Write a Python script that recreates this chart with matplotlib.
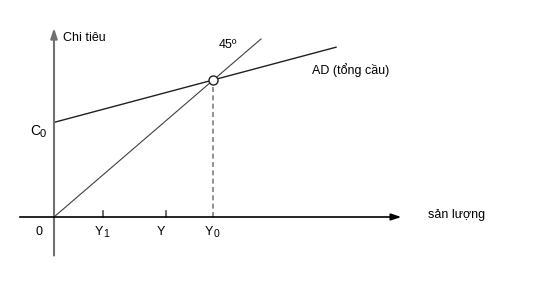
import numpy as np
import matplotlib
matplotlib.use("Agg")
import matplotlib.pyplot as plt

plt.rcParams['font.family'] = ['Liberation Sans', 'DejaVu Sans']

# keynesian cross, schematic units
C0 = 110          # autonomous spending
mpc = 0.31        # slope of AD
Y0 = C0 / (1 - mpc)   # equilibrium output
Y1 = 49
Y = 112
x_ad_end = 282
x_45_end = 207

tick_pos = [Y1, Y, Y0]
tick_lab = ['Y', 'Y', 'Y']
tick_sub = ['1', '', '0']

fig = plt.figure(figsize=(5.41, 2.81), dpi=100)
ax = fig.add_axes([0, 0, 1, 1])
ys = 0.86  # pixel per y unit
ax.set_xlim(-54, 487)
ax.set_ylim(-64 / ys, 217 / ys)
ax.axis('off')

# axes
ax.annotate('', xy=(0, 223), xytext=(0, -48),
            arrowprops=dict(arrowstyle='-|>,head_length=0.6,head_width=0.2', color='#707070', lw=1.5))
ax.annotate('', xy=(350, 0), xytext=(-37, 0),
            arrowprops=dict(arrowstyle='-|>,head_length=0.6,head_width=0.2', color='black', lw=1.2))

# lines
xx = np.array([0, x_45_end])
ax.plot(xx, xx, color='#404040', lw=0.8)
xa = np.array([0, x_ad_end])
ax.plot(xa, C0 + mpc * xa, color='#202020', lw=1.0)
ax.plot([Y0, Y0], [0, Y0], color='#808080', lw=1.2, ls=(0, (3, 2)))
ax.plot([Y0], [Y0], marker='o', ms=6.5, mfc='white', mec='#202020', mew=1)

# ticks
for p in tick_pos[:2]:
    ax.plot([p, p], [0, 7], color='#505050', lw=1.2)
for p, lab, sub in zip(tick_pos, tick_lab, tick_sub):
    if sub:
        ax.text(p, -17, lab, ha='right', va='center', fontsize=9)
        ax.text(p, -20, sub, ha='left', va='center', fontsize=7.5)
    else:
        ax.text(p - 5, -17, lab, ha='center', va='center', fontsize=9)
ax.text(-15, -17, '0', ha='center', va='center', fontsize=9)

# labels
ax.text(9, 208, 'Chi tiêu', ha='left', va='center', fontsize=9)
ax.text(-14, C0 - 10, 'C', ha='right', va='center', fontsize=10)
ax.text(-14, C0 - 14, '0', ha='left', va='center', fontsize=8)
ax.text(165, 200, '45º', ha='left', va='center', fontsize=9)
ax.text(258, 171, 'AD (tổng cầu)', ha='left', va='center', fontsize=9)
ax.text(374, 2, 'sản lượng', ha='left', va='center', fontsize=9)

fig.savefig('out.png', dpi=100, facecolor='white')
